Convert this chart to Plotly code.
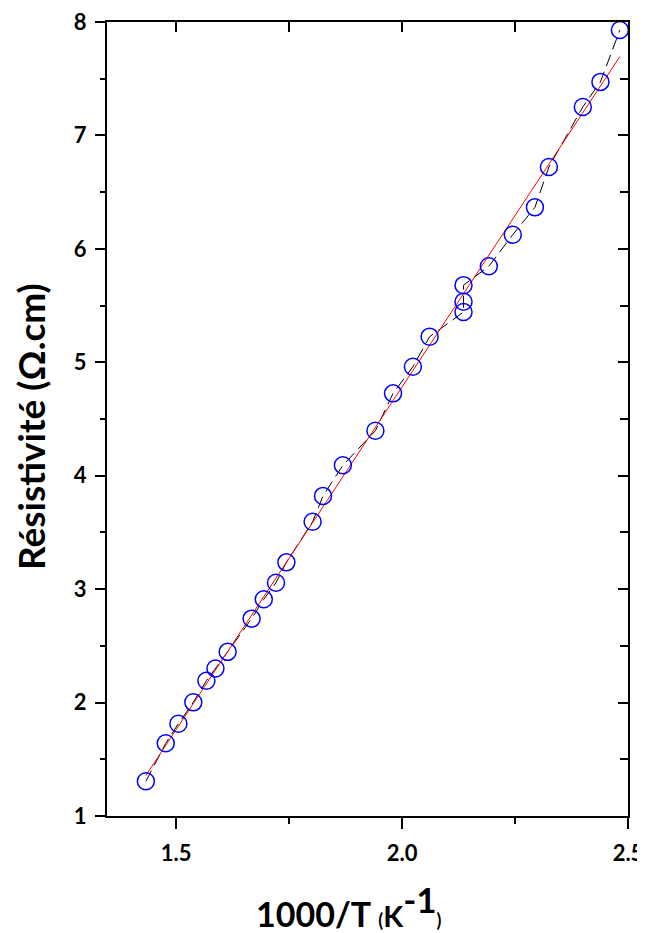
import numpy as np
import plotly.graph_objects as go

# Data
inv_T = [1.433, 1.477, 1.505, 1.538, 1.567, 1.587, 1.614, 1.667, 1.694, 1.721,
         1.744, 1.802, 1.825, 1.869, 1.941, 1.980, 2.024, 2.061, 2.136, 2.136,
         2.136, 2.192, 2.245, 2.294, 2.325, 2.400, 2.439, 2.482]
resistivity = [1.306, 1.641, 1.814, 2.002, 2.193, 2.300, 2.447, 2.740, 2.911, 3.057,
               3.236, 3.594, 3.822, 4.092, 4.397, 4.726, 4.961, 5.226, 5.443, 5.534,
               5.680, 5.846, 6.125, 6.366, 6.722, 7.251, 7.472, 7.929]

x_ticks = [1.5, 2.0, 2.5]
x_tick_text = ["1.5", "2.0", "2.5"]
y_ticks = [1, 2, 3, 4, 5, 6, 7, 8]

# Linear fit
slope, intercept = np.polyfit(inv_T, resistivity, 1)
fit_x = np.array([min(inv_T), max(inv_T)])
fit_y = slope * fit_x + intercept

FONT = "Lato"

fig = go.Figure()
fig.add_trace(go.Scatter(
    x=inv_T, y=resistivity, mode="lines",
    line=dict(color="black", width=1, dash="12px,6px"),
    showlegend=False, hoverinfo="skip"))
fig.add_trace(go.Scatter(
    x=fit_x, y=fit_y, mode="lines",
    line=dict(color="red", width=1),
    showlegend=False, hoverinfo="skip"))
fig.add_trace(go.Scatter(
    x=inv_T, y=resistivity, mode="markers",
    marker=dict(symbol="circle-open", size=17, color="#0000FF", line=dict(width=1.5, color="#0000FF")),
    showlegend=False))
# dummy trace to bind mirrored axes
fig.add_trace(go.Scatter(x=[None], y=[None], xaxis="x2", yaxis="y2",
                         showlegend=False, hoverinfo="skip"))

xr = [1.347, 2.5]
yr = [1, 8]

tickfont = dict(family=FONT, size=22, color="black", weight="bold")

# page body has an 8px margin, so the figure is sized/offset to compensate
fig.update_layout(
    width=637, height=925,
    margin=dict(l=99, r=17, t=14, b=117, autoexpand=False),
    paper_bgcolor="white", plot_bgcolor="white",
    font=dict(family=FONT, color="black"),
    xaxis=dict(
        range=xr, showgrid=False, zeroline=False, automargin=False,
        showline=True, linecolor="black", linewidth=2,
        ticks="outside", ticklen=11, tickwidth=2, tickcolor="black",
        tickvals=x_ticks, ticktext=x_tick_text, tickfont=tickfont,
        ticklabelstandoff=6, ticklabeloverflow="allow",
        minor=dict(dtick=0.25, tick0=1.5, ticks="outside", ticklen=6, tickwidth=2, tickcolor="black"),
    ),
    yaxis=dict(
        range=yr, showgrid=False, zeroline=False, automargin=False,
        showline=True, linecolor="black", linewidth=2,
        ticks="outside", ticklen=10, tickwidth=2, tickcolor="black",
        tickvals=y_ticks, tickfont=tickfont,
        ticklabelstandoff=4, ticklabeloverflow="allow",
        minor=dict(dtick=0.5, tick0=1, ticks="outside", ticklen=5, tickwidth=2, tickcolor="black"),
    ),
    xaxis2=dict(
        overlaying="x", side="top", anchor="y", range=xr, automargin=False,
        showgrid=False, zeroline=False, showline=True, linecolor="black", linewidth=2,
        ticks="inside", ticklen=10, tickwidth=2, tickcolor="black",
        tickvals=[1.5, 1.75, 2.0, 2.25, 2.5], showticklabels=False,
    ),
    yaxis2=dict(
        overlaying="y", side="right", anchor="x", range=yr, automargin=False,
        showgrid=False, zeroline=False, showline=True, linecolor="black", linewidth=2,
        ticks="inside", ticklen=10, tickwidth=2, tickcolor="black",
        tickvals=y_ticks, showticklabels=False,
        minor=dict(dtick=0.5, tick0=1, ticks="inside", ticklen=8, tickwidth=2, tickcolor="black"),
    ),
    annotations=[
        dict(
            text="1000/T <span style='font-size:18px'>(</span><span style='font-size:29px'>K</span><sup><span style='font-size:35px'>-1</span></sup><span style='font-size:18px'>)</span>",
            xref="paper", yref="paper", x=0.464, y=-0.113,
            xanchor="center", yanchor="middle", showarrow=False,
            font=dict(family=FONT, size=34, color="black", weight="bold")),
        dict(
            text="Résistivité (Ω.cm)", textangle=-90,
            xref="paper", yref="paper", x=-0.148, y=0.491,
            xanchor="center", yanchor="middle", showarrow=False,
            font=dict(family=FONT, size=37, color="black", weight="bold")),
    ],
)

fig.write_html("out.html")
